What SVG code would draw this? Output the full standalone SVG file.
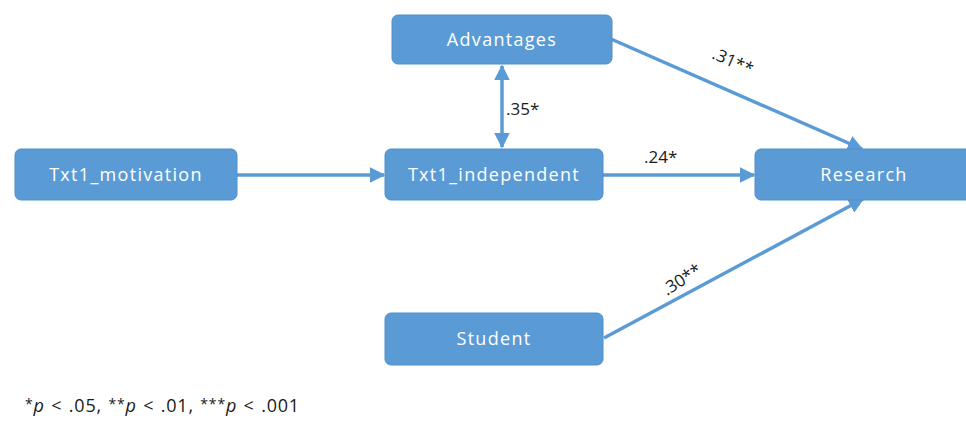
<svg xmlns="http://www.w3.org/2000/svg" width="966" height="423" viewBox="0 0 966 423">
<style>
.box{fill:#5B9BD5;stroke:#4F8FCB;stroke-width:1}
.nt{font-family:"Open Sans","Liberation Sans",sans-serif;font-size:18px;fill:#FFFFFF;text-anchor:middle;letter-spacing:1.3px}
.ln{stroke:#5B9BD5;stroke-width:3.5;fill:none}
.lb{font-family:"Open Sans","Liberation Sans",sans-serif;font-size:17px;fill:#1a1a1a}
.fn{font-family:"Open Sans","Liberation Sans",sans-serif;font-size:18px;fill:#1a1a1a;letter-spacing:0.8px;word-spacing:1px}
</style>
<defs>
<marker id="ah" viewBox="0 0 10 10" refX="9" refY="5" markerWidth="4.5" markerHeight="4.5" orient="auto-start-reverse" markerUnits="strokeWidth">
<path d="M0,0 L10,5 L0,10 z" fill="#5B9BD5"/>
</marker>
</defs>
<rect width="966" height="423" fill="#FFFFFF"/>
<g id="connectors">
<line class="ln" x1="237" y1="175" x2="384" y2="175" marker-end="url(#ah)"/>
<line class="ln" x1="502" y1="66" x2="502" y2="147" marker-start="url(#ah)" marker-end="url(#ah)"/>
<line class="ln" x1="603" y1="175" x2="754" y2="175" marker-end="url(#ah)"/>
<line class="ln" x1="611" y1="39" x2="862" y2="149" marker-end="url(#ah)"/>
<line class="ln" x1="604" y1="338" x2="863" y2="199" marker-end="url(#ah)"/>
<text class="lb" x="506" y="115">.35*</text>
<text class="lb" x="644" y="163">.24*</text>
<text class="lb" transform="translate(711,58) rotate(24)">.31**</text>
<text class="lb" transform="translate(667,296) rotate(-33)">.30**</text>
</g>
<g id="advantages">
<rect class="box" x="392" y="15" width="220" height="49" rx="6"/>
<text class="nt" x="502" y="46">Advantages</text>
</g>
<g id="txt1_motivation">
<rect class="box" x="15" y="149" width="222" height="51" rx="6"/>
<text class="nt" x="126" y="181">Txt1_motivation</text>
</g>
<g id="txt1_independent">
<rect class="box" x="385" y="149" width="218" height="51" rx="6"/>
<text class="nt" x="494" y="181">Txt1_independent</text>
</g>
<g id="research">
<rect class="box" x="755" y="149" width="220" height="51" rx="6"/>
<text class="nt" x="864" y="181">Research</text>
</g>
<g id="student">
<rect class="box" x="385" y="313" width="218" height="52" rx="6"/>
<text class="nt" x="494" y="345">Student</text>
</g>
<text class="fn" x="25" y="412"><tspan dy="-3" font-size="14">*</tspan><tspan dy="3" font-style="italic">p</tspan> &lt; .05, <tspan dy="-3" font-size="14">**</tspan><tspan dy="3" font-style="italic">p</tspan> &lt; .01, <tspan dy="-3" font-size="14">***</tspan><tspan dy="3" font-style="italic">p</tspan> &lt; .001</text>
</svg>
